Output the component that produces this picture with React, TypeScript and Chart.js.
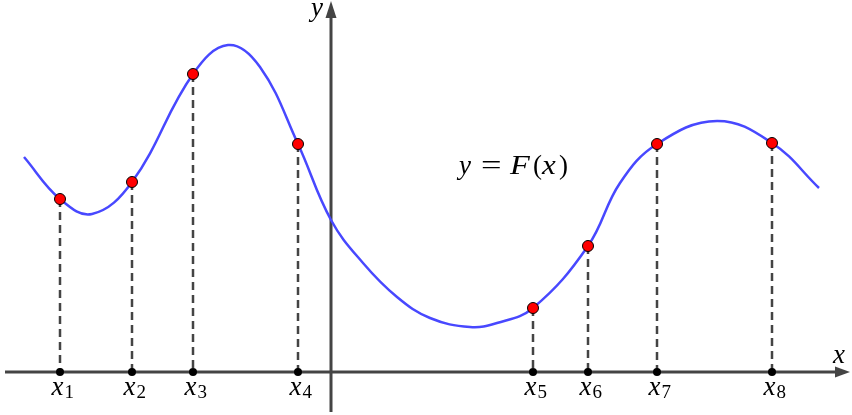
import React, { useEffect, useRef } from "react";
import { Chart, registerables } from "chart.js";

Chart.register(...registerables);

// Curve F(x) (origin at axes crossing, 1 unit = 50px)
const curveX = [-6.14, -5.42, -4.78, -3.98, -2.76, -2.06, -1.42, -0.66, 0, 0.64, 1.32, 1.98, 2.78, 3.32, 4.04, 5.14, 5.78, 6.52, 7.72, 8.82, 9.76];
const curveY = [4.3, 3.46, 3.16, 3.8, 5.96, 6.54, 6.1, 4.56, 3.04, 2.18, 1.5, 1.08, 0.9, 0.98, 1.28, 2.52, 3.78, 4.56, 5.02, 4.58, 3.68];

// Marked points x1..x8
const markLabels = ["1", "2", "3", "4", "5", "6", "7", "8"];
const markX = [-5.42, -3.98, -2.76, -0.66, 4.04, 5.14, 6.52, 8.82];
const markY = [3.46, 3.8, 5.96, 4.56, 1.28, 2.52, 4.56, 4.58];

// Axis extents and view window
const axisRangeX = [-6.52, 10.38];
const axisRangeY = [-0.8, 7.42];
const viewX = [-6.62, 10.42];
const viewY = [-0.86, 7.44];

const AXIS = "#444444";
const SERIF = "'Liberation Serif', 'DejaVu Serif', serif";

const decor = {
  id: "decor",
  beforeDatasetsDraw(chart: any) {
    const { ctx, scales } = chart;
    const sx = scales.x, sy = scales.y;
    const x0 = sx.getPixelForValue(0);
    const y0 = sy.getPixelForValue(0);
    ctx.save();
    ctx.strokeStyle = AXIS;
    ctx.fillStyle = AXIS;
    ctx.lineWidth = 3;
    // x axis
    const xa = sx.getPixelForValue(axisRangeX[0]);
    const xb = sx.getPixelForValue(axisRangeX[1]);
    ctx.beginPath();
    ctx.moveTo(xa, y0);
    ctx.lineTo(xb - 8, y0);
    ctx.stroke();
    ctx.beginPath();
    ctx.moveTo(xb, y0);
    ctx.lineTo(xb - 15, y0 - 5.5);
    ctx.lineTo(xb - 15, y0 + 5.5);
    ctx.closePath();
    ctx.fill();
    // y axis
    const ya = sy.getPixelForValue(axisRangeY[0]);
    const yb = sy.getPixelForValue(axisRangeY[1]);
    ctx.beginPath();
    ctx.moveTo(x0, ya);
    ctx.lineTo(x0, yb + 8);
    ctx.stroke();
    ctx.beginPath();
    ctx.moveTo(x0, yb);
    ctx.lineTo(x0 - 5.5, yb + 17);
    ctx.lineTo(x0 + 5.5, yb + 17);
    ctx.closePath();
    ctx.fill();
    // dashed drop lines
    ctx.setLineDash([8, 5]);
    ctx.lineWidth = 2.5;
    markX.forEach((mx, i) => {
      const px = sx.getPixelForValue(mx);
      ctx.beginPath();
      ctx.moveTo(px, sy.getPixelForValue(markY[i]));
      ctx.lineTo(px, y0);
      ctx.stroke();
    });
    ctx.restore();
  },
  afterDatasetsDraw(chart: any) {
    const { ctx, scales } = chart;
    const sx = scales.x, sy = scales.y;
    const x0 = sx.getPixelForValue(0);
    const y0 = sy.getPixelForValue(0);
    ctx.save();
    ctx.fillStyle = "#000";
    ctx.textAlign = "left";
    ctx.textBaseline = "alphabetic";
    markX.forEach((mx, i) => {
      const px = sx.getPixelForValue(mx);
      ctx.font = `italic 27px ${SERIF}`;
      const left = px - 8.5;
      ctx.fillText("x", left, y0 + 23);
      const w = ctx.measureText("x").width;
      ctx.font = `19px ${SERIF}`;
      ctx.fillText(markLabels[i], left + w + 1, y0 + 26);
    });
    // axis names
    ctx.font = `italic 27px ${SERIF}`;
    ctx.fillText("x", sx.getPixelForValue(axisRangeX[1]) - 17, y0 - 9);
    ctx.fillText("y", x0 - 20, sy.getPixelForValue(axisRangeY[1]) + 15);
    // function label y = F(x)
    const ly = 174;
    const glyphs: [string, string, number, number][] = [
      ["y", "italic", 459, 1],
      ["=", "normal", 481, 1.35],
      ["F", "italic", 510, 1.2],
      ["(", "normal", 533, 1],
      ["x", "italic", 542, 1.15],
      [")", "normal", 559, 1],
    ];
    glyphs.forEach(([t, st, gx, sc]) => {
      ctx.font = `${st} 27px ${SERIF}`;
      ctx.save();
      ctx.translate(gx, ly);
      ctx.scale(sc, 1);
      ctx.fillText(t, 0, 0);
      ctx.restore();
    });
    ctx.restore();
  },
};

export default function App() {
  const ref = useRef<HTMLCanvasElement | null>(null);
  useEffect(() => {
    if (!ref.current) return;
    const chart = new Chart(ref.current, {
      type: "line",
      data: {
        datasets: [
          {
            label: "F",
            data: curveX.map((x, i) => ({ x, y: curveY[i] })),
            borderColor: "#4848ff",
            borderWidth: 2.5,
            pointRadius: 0,
            tension: 0.4,
            fill: false,
            order: 3,
          },
          {
            label: "marks",
            data: markX.map((x, i) => ({ x, y: markY[i] })),
            showLine: false,
            pointRadius: 5.5,
            pointBackgroundColor: "#ff0000",
            pointBorderColor: "#000000",
            pointBorderWidth: 1,
            order: 1,
          },
          {
            label: "feet",
            data: markX.map((x) => ({ x, y: 0 })),
            showLine: false,
            pointRadius: 4,
            pointBackgroundColor: "#000000",
            pointBorderColor: "#000000",
            pointBorderWidth: 0,
            order: 2,
          },
        ],
      },
      options: {
        responsive: false,
        animation: false,
        events: [],
        layout: { padding: 0, autoPadding: false },
        plugins: { legend: { display: false }, tooltip: { enabled: false } },
        scales: {
          x: { type: "linear", min: viewX[0], max: viewX[1], display: false },
          y: { type: "linear", min: viewY[0], max: viewY[1], display: false },
        },
      },
      plugins: [decor],
    } as any);
    return () => chart.destroy();
  }, []);
  return (
    <div style={{ position: "absolute", left: 0, top: 0, width: 852, height: 415, background: "#fff" }}>
      <canvas ref={ref} width={852} height={415} />
    </div>
  );
}
